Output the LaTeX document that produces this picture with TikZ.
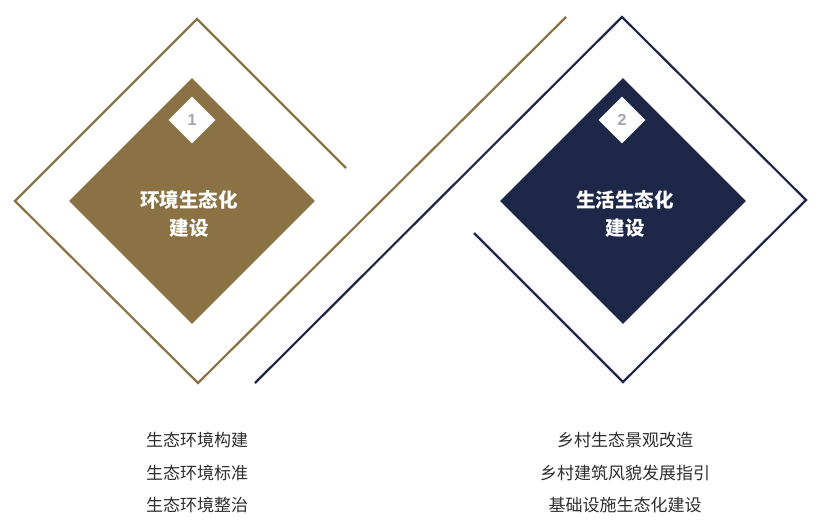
\documentclass[tikz,border=0pt]{standalone}
\usepackage{fontspec}
\newfontfamily\cjk{Noto Sans CJK SC}
\newfontfamily\numfont{Liberation Sans}
\usetikzlibrary{shapes.geometric}
\definecolor{gold}{HTML}{8B7244}
\definecolor{navy}{HTML}{1E2747}
\definecolor{numgray}{HTML}{A0A4AE}
\definecolor{listgray}{HTML}{2E2E2E}
\tikzset{
  frameline/.style={line width=2.2pt, line join=miter},
  bigdia/.style={diamond, aspect=1, inner sep=0pt, minimum size=246pt, draw=none},
  smalldia/.style={diamond, aspect=1, inner sep=0pt, minimum size=47pt, fill=white, draw=none},
  numtxt/.style={text=numgray, font=\fontsize{16}{16}\selectfont\numfont\bfseries},
  titletxt/.style={text=white, align=center, font=\fontsize{19.5}{28}\selectfont\cjk\bfseries},
  listtxt/.style={text=listgray, font=\fontsize{17}{17}\selectfont\cjk, anchor=center}
}
\begin{document}
\begin{tikzpicture}[x=1pt,y=-1pt]
\useasboundingbox (0,0) rectangle (819,528);
% outer frames
\coordinate (a1) at (346,168);
\coordinate (a2) at (197,19);
\coordinate (a3) at (15,201);
\coordinate (a4) at (198,383);
\coordinate (a5) at (566,17);
\draw[frameline, draw=gold] (a1) -- (a2) -- (a3) -- (a4) -- (a5);
\coordinate (b1) at (474,233);
\coordinate (b2) at (623,382);
\coordinate (b3) at (806,200);
\coordinate (b4) at (622,17);
\coordinate (b5) at (255,383);
\draw[frameline, draw=navy] (b1) -- (b2) -- (b3) -- (b4) -- (b5);
% inner diamonds
\node[bigdia, fill=gold] (d1) at (192,201) {};
\node[bigdia, fill=navy] (d2) at (623,201) {};
\node[smalldia] (s1) at (192,120) {};
\node[smalldia] (s2) at (622,120) {};
\node[numtxt] (n1) at (s1) {1};
\node[numtxt] (n2) at (s2) {2};
\node[titletxt] (t1) at (189,214) {环境生态化\\建设};
\node[titletxt] (t2) at (625,214) {生活生态化\\建设};
% lists
\node[listtxt] (l1) at (197,440) {生态环境构建};
\node[listtxt] (l2) at (197,473) {生态环境标准};
\node[listtxt] (l3) at (197,505) {生态环境整治};
\node[listtxt] (r1) at (625,440) {乡村生态景观改造};
\node[listtxt] (r2) at (625,473) {乡村建筑风貌发展指引};
\node[listtxt] (r3) at (625,505) {基础设施生态化建设};
\end{tikzpicture}
\end{document}
